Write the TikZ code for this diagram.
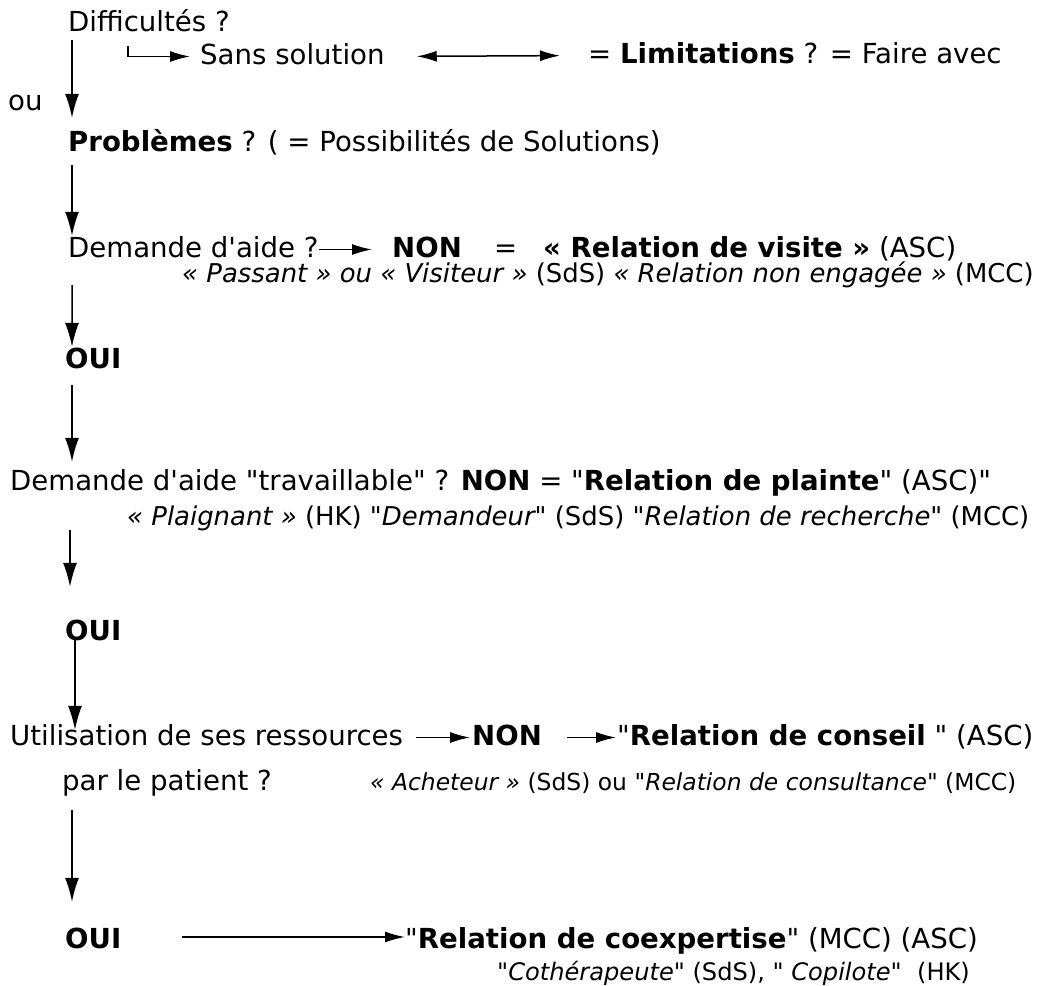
\documentclass[tikz,border=0pt]{standalone}
\usepackage{fontspec}
\setmainfont{DejaVu Sans}
\usetikzlibrary{arrows.meta}
\newcommand{\apos}{\textquotesingle}
\newcommand{\q}{\textquotedbl}

\begin{document}
\begin{tikzpicture}[x=1bp, y=-1bp,
		txt/.style={anchor=base west, inner sep=0pt, text height=21bp, text depth=6bp, font=\fontsize{27.7}{32}\selectfont},
		sub/.style={anchor=base west, inner sep=0pt, font=\fontsize{26}{30}\selectfont},
		arr/.style={-{Latex[length=24bp, width=14bp]}, line width=1.5bp},
		sarr/.style={-{Latex[length=20bp, width=11bp]}, line width=1.5bp}]
		\useasboundingbox (0, 0) rectangle (1054, 986);

		\node[txt] at (68, 31) (diff) {Difficultés ?};
		\node[txt] at (200, 64) (sans) {Sans solution};
		\node[txt] at (588, 63) (limit) {= \textbf{Limitations} ? = Faire avec};
		\node[txt] at (8, 110) (ou) {ou};
		\node[txt] at (68, 151) (prob) {\textbf{Problèmes} ? ( = Possibilités de Solutions)};

		\node[txt] at (68, 257) (dem) {Demande d\apos aide ?};
		\node[txt] at (392, 257) (non1) {\textbf{NON}};
		\node[txt] at (494, 257) (eq1) {=};
		\node[txt] at (543, 257) (visite) {\textbf{« Relation de visite »} (ASC)};
		\node[sub] at (182, 282) (passant) {\textit{« Passant » ou « Visiteur »} (SdS) \textit{« Relation non engagée »} (MCC)};
		\node[txt] at (65, 368) (oui1) {\textbf{OUI}};

		\node[txt] at (10, 490) (trav) {Demande d\apos aide \q travaillable\q{} ? \textbf{NON} = \q\textbf{Relation de plainte}\q{} (ASC)\q};
		\node[sub] at (127, 525) (plaign) {\textit{« Plaignant »} (HK) \textit{\q Demandeur\q} (SdS) \textit{\q Relation de recherche\q} (MCC)};
		\node[txt] at (65, 640) (oui2) {\textbf{OUI}};

		\node[txt] at (10, 745) (util) {Utilisation de ses ressources};
		\node[txt] at (472, 745) (non3) {\textbf{NON}};
		\node[txt] at (617, 745) (conseil) {\q\textbf{Relation de conseil} \q{} (ASC)};
		\node[txt] at (62, 790) (patient) {par le patient ?};
		\node[sub, font=\fontsize{23.5}{28}\selectfont] at (370, 790) (achet) {\textit{« Acheteur »} (SdS) ou \textit{\q Relation de consultance\q} (MCC)};

		\node[txt] at (65, 948) (oui3) {\textbf{OUI}};
		\node[txt] at (405, 948) (coexp) {\q\textbf{Relation de coexpertise}\q{} (MCC) (ASC)};
		\node[sub, font=\fontsize{24.2}{28}\selectfont] at (497, 980) (cother) {\textit{\q Cothérapeute\q} (SdS), \textit{\q{} Copilote\q} \ (HK)};
		\coordinate (h0) at (182, 937);

		% main column
		\draw[arr, shorten <=3bp, shorten >=12bp] ([xshift=4bp]diff.south west) -- ([xshift=4bp]diff.south west |- prob.north);
		\draw[arr, shorten <=8bp] ([xshift=4bp]prob.south west) -- ([xshift=4bp]prob.south west |- dem.north);
		\draw[arr, shorten <=22bp] ([xshift=4bp]dem.south west) -- ([xshift=7bp]oui1.north west);
		\draw[arr, shorten <=11bp, shorten >=7bp] ([xshift=7bp]oui1.south west) -- ([xshift=7bp]oui1.south west |- trav.north);
		\draw[arr, shorten <=34bp, shorten >=32bp] ([xshift=5bp]oui2.south west |- trav.south) -- ([xshift=5bp]oui2.north west);
		\draw[arr, shorten >=-6bp] ([xshift=10bp]oui2.base west) -- ([xshift=10bp]oui2.base west |- util.north);
		\draw[arr, shorten <=14bp, shorten >=25bp] ([xshift=10bp]patient.south west) -- ([xshift=10bp]patient.south west |- oui3.north);

		% side branches
		\draw[sarr] ([xshift=60bp, yshift=-9bp]diff.south west) |- ([xshift=-10bp]sans.west);
		\draw[{Latex[length=20bp, width=11bp]}-{Latex[length=20bp, width=11bp]}, line width=1.5bp, shorten <=32bp, shorten >=28bp] (sans.east) -- (limit.west);
		\draw[sarr, shorten >=20bp] (dem.east) -- (non1.west);
		\draw[sarr, shorten <=13bp, shorten >=2bp] (util.east) -- (non3.west);
		\draw[sarr, shorten <=25bp, shorten >=1bp] (non3.east) -- (conseil.west);
		\draw[sarr] (h0) -- (coexp.west |- h0);
\end{tikzpicture}
\end{document}
